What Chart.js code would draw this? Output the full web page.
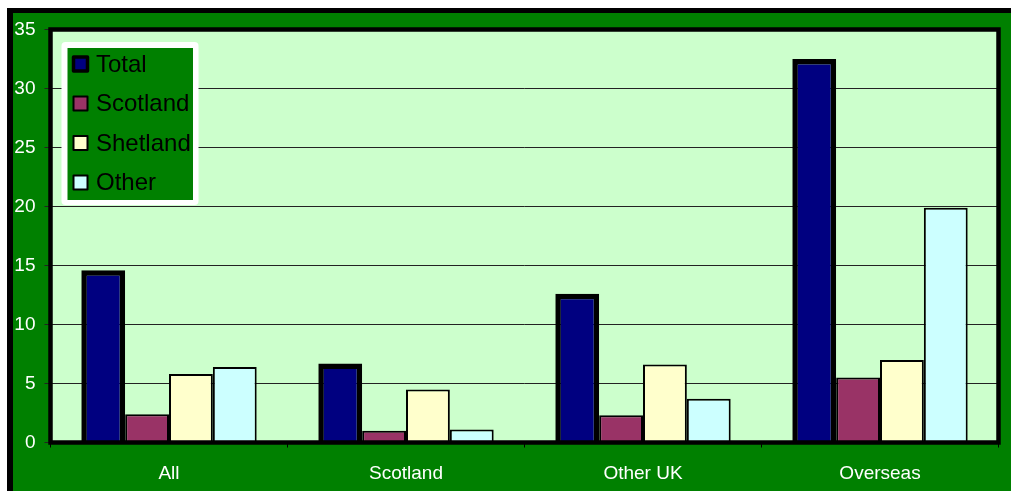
<!DOCTYPE html>
<html>
<head>
<meta charset="utf-8">
<script src="https://cdn.jsdelivr.net/npm/chart.js@4/dist/chart.umd.min.js"></script>
<style>
  body { margin: 0; background: #fff; }
</style>
</head>
<body>
<canvas id="chart" width="1011" height="491"></canvas>
<script>
var categories = ['All', 'Scotland', 'Other UK', 'Overseas'];
var totalValues = [14.6, 6.7, 12.6, 32.5];
var scotlandValues = [2.4, 1.0, 2.3, 5.5];
var shetlandValues = [5.8, 4.5, 6.6, 7.0];
var otherValues = [6.4, 1.1, 3.7, 19.9];

var outerGreen = '#008000';
var plotGreen = '#ccffcc';
var font = '"Liberation Sans", Arial, sans-serif';

// green panel with black top/left edge, pale plot area
var backdrop = {
    id: 'backdrop',
    beforeDraw: function(chart){
        var ctx = chart.ctx, a = chart.chartArea;
        ctx.save();
        ctx.fillStyle = '#fff';
        ctx.fillRect(0, 0, chart.width, chart.height);
        ctx.fillStyle = '#000';
        ctx.fillRect(7, 8, chart.width - 7, chart.height - 8);
        ctx.fillStyle = outerGreen;
        ctx.fillRect(13, 13, chart.width - 13, chart.height - 13);
        ctx.fillStyle = plotGreen;
        ctx.fillRect(a.left, a.top, a.right - a.left, a.bottom - a.top);
        ctx.restore();
    }
};

// thick black frame round the plot area
var plotFrame = {
    id: 'plotFrame',
    afterDatasetsDraw: function(chart){
        var ctx = chart.ctx, a = chart.chartArea;
        ctx.save();
        ctx.strokeStyle = '#000';
        ctx.lineWidth = 4.5;
        ctx.strokeRect(a.left, a.top, a.right - a.left, a.bottom - a.top);
        ctx.restore();
    }
};

// legend box sitting inside the plot, top left
var insetLegend = {
    id: 'insetLegend',
    afterDraw: function(chart){
        var ctx = chart.ctx;
        ctx.save();
        ctx.fillStyle = '#fff';
        ctx.beginPath();
        ctx.roundRect(61.5, 42, 137, 163, 4);
        ctx.fill();
        ctx.fillStyle = outerGreen;
        ctx.fillRect(67.5, 48, 125.5, 152);
        ctx.font = '24px ' + font;
        ctx.textBaseline = 'middle';
        ctx.lineJoin = 'round';
        chart.data.datasets.forEach(function(ds, i){
            var y = 64 + i * 39.5;
            var bw = ds.borderWidth > 2 ? 3.5 : 2;
            ctx.fillStyle = ds.backgroundColor;
            ctx.fillRect(73.5, y - 7, 14, 14);
            ctx.strokeStyle = '#000';
            ctx.lineWidth = bw;
            ctx.strokeRect(73.5, y - 7, 14, 14);
            ctx.fillStyle = '#000';
            ctx.fillText(ds.label, 96, y + 1);
        });
        ctx.restore();
    }
};

new Chart(document.getElementById('chart'), {
    type: 'bar',
    data: {
        labels: categories,
        datasets: [
            {label: 'Total', data: totalValues, backgroundColor: '#000080', borderColor: '#000', borderWidth: 5.5},
            {label: 'Scotland', data: scotlandValues, backgroundColor: '#993366', borderColor: '#000', borderWidth: 2},
            {label: 'Shetland', data: shetlandValues, backgroundColor: '#ffffcc', borderColor: '#000', borderWidth: 2},
            {label: 'Other', data: otherValues, backgroundColor: '#ccffff', borderColor: '#000', borderWidth: 2}
        ]
    },
    options: {
        responsive: false,
        animation: false,
        datasets: {bar: {categoryPercentage: 0.74, barPercentage: 1}},
        layout: {padding: {left: 0, right: 12.5, top: 29.5, bottom: 0}},
        plugins: {legend: {display: false}, tooltip: {enabled: false}},
        scales: {
            x: {
                afterFit: function(scale){ scale.height = 48.5; },
                border: {display: false},
                grid: {drawOnChartArea: false, drawTicks: true, tickLength: 5, color: '#000'},
                ticks: {color: '#fff', font: {family: font, size: 19}, padding: 15}
            },
            y: {
                min: 0,
                max: 35,
                afterFit: function(scale){ scale.width = 50.5; },
                border: {display: false},
                grid: {color: '#222', lineWidth: 1, tickLength: 6},
                ticks: {stepSize: 5, color: '#fff', font: {family: font, size: 19}, padding: 9}
            }
        }
    },
    plugins: [backdrop, plotFrame, insetLegend]
});
</script>
</body>
</html>
